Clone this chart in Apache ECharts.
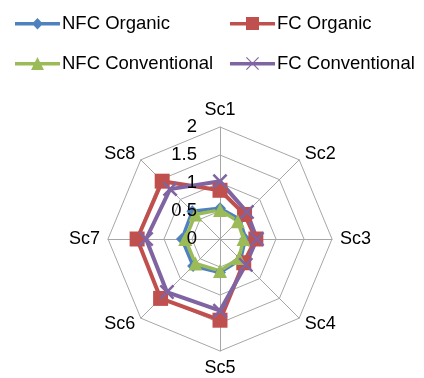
<!DOCTYPE html>
<html>
<head>
<meta charset="utf-8">
<script src="https://cdn.jsdelivr.net/npm/echarts@6/dist/echarts.min.js"></script>
<style>
html,body{margin:0;padding:0;background:#fff;}
#chart{width:424px;height:378px;}
</style>
</head>
<body>
<div id="chart"></div>
<script>
// Categories (clockwise from top)
var categories = ['Sc1','Sc2','Sc3','Sc4','Sc5','Sc6','Sc7','Sc8'];
// Series values
var nfcOrganic      = [0.55, 0.50, 0.45, 0.52, 0.60, 0.68, 0.68, 0.70];
var fcOrganic       = [0.87, 0.62, 0.64, 0.60, 1.45, 1.50, 1.48, 1.46];
var nfcConventional = [0.52, 0.45, 0.42, 0.48, 0.57, 0.62, 0.62, 0.62];
var fcConventional  = [1.03, 0.68, 0.66, 0.65, 1.28, 1.34, 1.32, 1.26];
// Axis ticks
var tickLabels = ['0','0.5','1','1.5','2'];
var axisMin = 0, axisMax = 2;

var FONT = 'Liberation Sans';
// ECharts radar places indicators counter-clockwise; reorder for clockwise look
var order = [0,7,6,5,4,3,2,1];
function ro(arr){ return order.map(function(i){ return arr[i]; }); }

var indicators = ro(categories).map(function(c){
  return {name: c, min: axisMin, max: axisMax};
});
// label-only copy: tick labels on the first (Sc1) axis only
var labelIndicators = ro(categories).map(function(c, k){
  var ind = {name: c, min: axisMin, max: axisMax};
  if (k !== 0) ind.axisLabel = {show: false};
  return ind;
});

var xPath = 'path://M0,1.2L1.2,0L5,3.8L8.8,0L10,1.2L6.2,5L10,8.8L8.8,10L5,6.2L1.2,10L0,8.8L3.8,5Z';

// legend icons: line + marker, drawn in a 45x13 box
var LINE = 'M0,5L45,5L45,8.5L0,8.5Z';
var iconDiamond = 'path://' + LINE + 'M22.5,1L28,6.75L22.5,12.5L17,6.75Z M0,0L0.01,0Z M45,13L45,13.01Z';
var iconSquare = 'path://' + LINE + 'M16,0L29,0L29,13L16,13Z';
var iconTri = 'path://' + LINE + 'M22.5,0L29,13L16,13Z';
var iconX = 'path://' + LINE + 'M16,0.8L16.8,0L22.5,5.7L28.2,0L29,0.8L23.3,6.5L29,12.2L28.2,13L22.5,7.3L16.8,13L16,12.2L21.7,6.5Z';

var seriesDefs = [
  {name:'NFC Organic', data:nfcOrganic, color:'#4F81BD', symbol:'diamond', size:12, width:3.5, icon:iconDiamond},
  {name:'FC Organic', data:fcOrganic, color:'#C0504D', symbol:'rect', size:15, width:4, icon:iconSquare},
  {name:'NFC Conventional', data:nfcConventional, color:'#9BBB59', symbol:'triangle', size:14, width:3.5, icon:iconTri},
  {name:'FC Conventional', data:fcConventional, color:'#8064A2', symbol:xPath, size:15, width:4, icon:iconX}
];

var series = seriesDefs.map(function(s){
  return {
    type:'radar',
    radarIndex:0,
    name:s.name,
    symbol:s.symbol,
    symbolSize:s.size,
    lineStyle:{color:s.color, width:s.width},
    itemStyle:{color:s.color},
    data:[{name:s.name, value: ro(s.data)}],
    animation:false
  };
});

var legendPos = [
  {left:10, top:9},
  {left:225, top:9},
  {left:10, top:49},
  {left:225, top:49}
];
var legends = seriesDefs.map(function(s, i){
  return {
    data:[{name:s.name, icon:s.icon}],
    left:legendPos[i].left, top:legendPos[i].top,
    itemWidth:45, itemHeight:13, itemGap:0,
    textStyle:{fontFamily:FONT, fontSize:18.5, color:'#000', padding:[0,0,0,-3]},
    selectedMode:false
  };
});

var radarBase = {
  center:[220,239],
  radius:112,
  shape:'polygon',
  splitNumber:4,
  startAngle:90
};

var chart = echarts.init(document.getElementById('chart'), null, {renderer:'canvas'});
chart.setOption({
  animation:false,
  textStyle:{fontFamily:FONT},
  legend: legends,
  radar:[
    Object.assign({}, radarBase, {
      z:1,
      indicator:indicators,
      axisName:{color:'#000', fontFamily:FONT, fontSize:18},
      nameGap:8,
      axisLine:{lineStyle:{color:'#A6A6A6', width:1}},
      splitLine:{lineStyle:{color:'#A6A6A6', width:1}},
      splitArea:{show:false},
      axisLabel:{show:false}
    }),
    Object.assign({}, radarBase, {
      z:5,
      indicator:labelIndicators,
      axisName:{show:false},
      axisLine:{show:false},
      splitLine:{show:false},
      splitArea:{show:false},
      axisTick:{show:false},
      axisLabel:{show:true, color:'#000', fontFamily:FONT, fontSize:18.5, margin:23,
        formatter:function(v){ return tickLabels[Math.round(v/0.5)] || ''; }}
    })
  ],
  series:series
});
</script>
</body>
</html>
